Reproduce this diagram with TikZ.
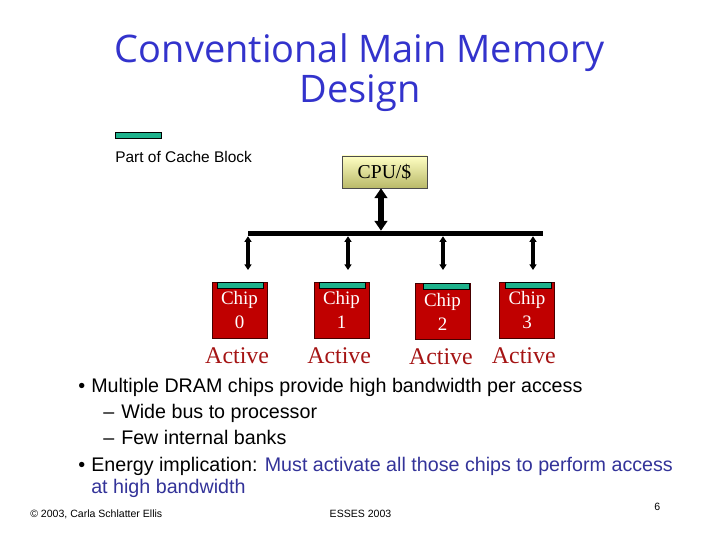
\documentclass[tikz,border=0pt]{standalone}
\usepackage{fontspec}
\setmainfont{Liberation Serif}
\newfontfamily\arialfont{Liberation Sans}
\newfontfamily\titlefont{Open Sans}
\usetikzlibrary{arrows.meta,positioning}
\definecolor{titleblue}{RGB}{51,51,204}
\definecolor{textblue}{RGB}{51,51,153}
\definecolor{chipred}{RGB}{192,0,0}
\definecolor{chipedge}{RGB}{70,0,0}
\definecolor{activered}{RGB}{165,20,20}
\definecolor{cachegreen}{RGB}{30,178,140}
\definecolor{cputop}{RGB}{255,255,195}
\definecolor{cpubot}{RGB}{185,185,105}

\begin{document}
\begin{tikzpicture}[
      every node/.style={inner sep=0pt},
      titletext/.style={font=\titlefont\fontsize{27}{28}\selectfont, text=titleblue, anchor=base},
      bodytext/.style={font=\arialfont\fontsize{14}{17}\selectfont, anchor=base west},
      foottext/.style={font=\arialfont\fontsize{7.5}{9}\selectfont, anchor=base},
      cachebar/.style={
        rectangle, draw=black, fill=cachegreen,
        minimum width=1.15cm, minimum height=0.15cm
      },
      cpubox/.style={
        rectangle, draw=black!70, top color=cputop, bottom color=cpubot,
        minimum width=2.125cm, minimum height=0.8cm,
        font=\fontsize{14}{16}\selectfont
      },
      busbar/.style={
        rectangle, fill=black,
        minimum width=7.375cm, minimum height=0.125cm
      },
      chipbox/.style={
        rectangle, draw=chipedge, fill=chipred, text=white,
        minimum width=1.375cm, minimum height=1.4cm,
        align=center, font=\fontsize{13.5}{17}\selectfont
      },
      activelbl/.style={text=activered, font=\fontsize{17}{19}\selectfont},
      bigarr/.style={{Triangle[length=7pt,width=9pt]}-{Triangle[length=7pt,width=9pt]}, line width=4.5pt},
      smallarr/.style={{Triangle[length=4pt,width=5pt]}-{Triangle[length=4pt,width=5pt]}, line width=2.6pt}
    ]
    \useasboundingbox[fill=white] (0,0) rectangle (18,13.5);

    % ===== Title =====
    \node[titletext] (title1) at (9.0, 11.925) {Conventional Main Memory};
    \node[titletext] (title2) at (9.0, 10.925) {Design};

    % ===== Legend =====
    \node[cachebar] (legbar) at (3.45, 10.11) {};
    \node[font=\arialfont\fontsize{11}{13}\selectfont, anchor=west] (legtext) at (2.875, 9.575) {Part of Cache Block};

    % ===== CPU and bus =====
    \node[cpubox] (cpu) at (9.6125, 9.2) {CPU/\$};
    \node[busbar] (bus) at (9.8875, 7.6625) {};
    \draw[bigarr] ([xshift=-2.5pt]cpu.south) -- ([xshift=-2.5pt]cpu.south |- bus.north);

    % ===== Chips =====
    \node[chipbox] (chip0) at (5.9875, 5.75) {Chip\\0};
    \node[chipbox] (chip1) at (8.5375, 5.75) {Chip\\1};
    \node[chipbox] (chip2) at (11.0625, 5.7125) {Chip\\2};
    \node[chipbox] (chip3) at (13.175, 5.75) {Chip\\3};
    \node[cachebar, anchor=north] (bar0) at ([xshift=0.02cm]chip0.north) {};
    \node[cachebar, anchor=north] (bar1) at ([xshift=0.02cm]chip1.north) {};
    \node[cachebar, anchor=north] (bar2) at ([xshift=0.1cm]chip2.north) {};
    \node[cachebar, anchor=north] (bar3) at ([xshift=0.02cm]chip3.north) {};

    \node[activelbl, below=0.22cm of chip0, xshift=-0.06cm] (act0) {Active};
    \node[activelbl, below=0.22cm of chip1, xshift=-0.06cm] (act1) {Active};
    \node[activelbl, below=0.22cm of chip2, xshift=-0.04cm] (act2) {Active};
    \node[activelbl, below=0.22cm of chip3, xshift=-0.08cm] (act3) {Active};

    % ===== Arrows: bus down to the chips =====
    \coordinate (tip0) at (6.2, 6.75);
    \coordinate (tip1) at (8.7, 6.75);
    \coordinate (tip2) at (11.075, 6.75);
    \coordinate (tip3) at (13.325, 6.75);
    \draw[smallarr] (bus.south -| tip0) -- (tip0);
    \draw[smallarr] (bus.south -| tip1) -- (tip1);
    \draw[smallarr] (bus.south -| tip2) -- (tip2);
    \draw[smallarr] (bus.south -| tip3) -- (tip3);

    % ===== Bullet text =====
    \node[bodytext] (dot1) at (1.95, 3.675) {\textbullet};
    \node[bodytext] (line1) at (2.275, 3.675) {Multiple DRAM chips provide high bandwidth per access};
    \node[bodytext] (dash1) at (2.575, 3.025) {\textendash};
    \node[bodytext] (line2) at (3.025, 3.025) {Wide bus to processor};
    \node[bodytext] (dash2) at (2.575, 2.375) {\textendash};
    \node[bodytext] (line3) at (3.025, 2.375) {Few internal banks};
    \node[bodytext] (dot2) at (1.95, 1.725) {\textbullet};
    \node[bodytext] (line4) at (2.275, 1.725) {Energy implication: \textcolor{textblue}{Must activate all those chips to perform access}};
    \node[bodytext, text=textblue] (line5) at (2.275, 1.15) {at high bandwidth};

    % ===== Footer =====
    \node[foottext, anchor=base west] (copy) at (0.75, 0.575) {\textcopyright{} 2003, Carla Schlatter Ellis};
    \node[foottext] (conf) at (9.0125, 0.575) {ESSES 2003};
    \node[foottext] (page) at (16.43, 0.75) {6};
  \end{tikzpicture}
\end{document}
